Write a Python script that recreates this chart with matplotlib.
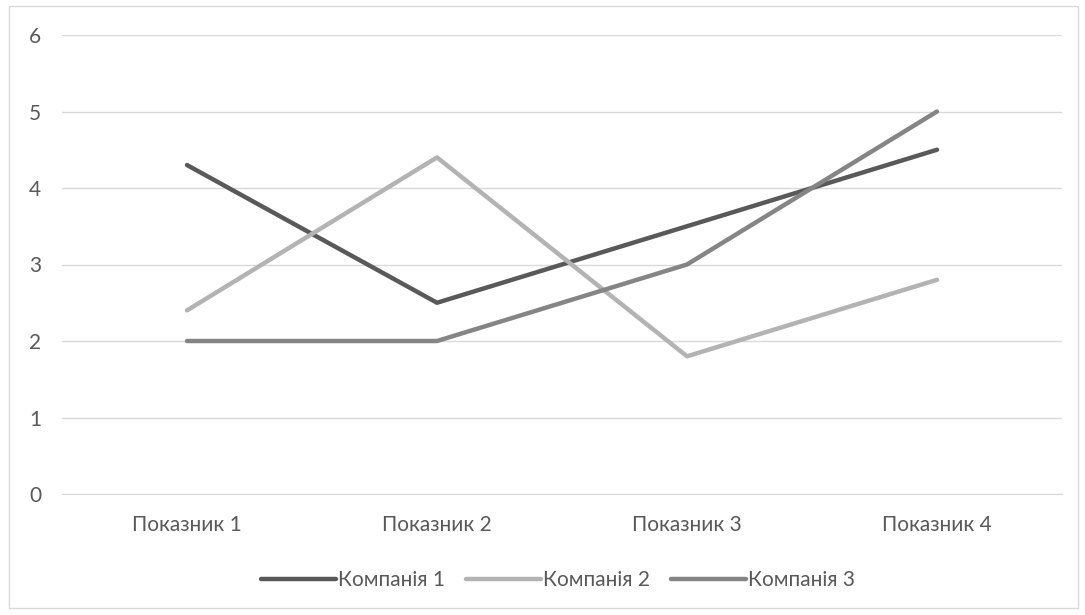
import matplotlib.pyplot as plt
from matplotlib.patches import Rectangle

plt.rcParams['font.family'] = ['Lato', 'DejaVu Sans']

categories = ['Показник 1', 'Показник 2', 'Показник 3', 'Показник 4']
series_names = ['Компанія 1', 'Компанія 2', 'Компанія 3']
company1 = [4.3, 2.5, 3.5, 4.5]
company2 = [2.4, 4.4, 1.8, 2.8]
company3 = [2, 2, 3, 5]
colors = ['#595959', '#b3b3b3', '#858585']

fig = plt.figure(figsize=(10.85, 6.15), dpi=100)
ax = fig.add_axes([62 / 1085, 1 - 494 / 615, 1000 / 1085, 459 / 615])

x = [i + 0.5 for i in range(len(categories))]
for vals, name, c in zip([company1, company2, company3], series_names, colors):
    ax.plot(x, vals, color=c, lw=3.2, label=name, solid_capstyle='round')

ax.set_xlim(0, len(categories))
ax.set_ylim(0, 6)
ax.set_yticks(range(0, 7))
ax.set_xticks(x)
ax.set_xticklabels(categories)
ax.grid(axis='y', color='#d9d9d9', lw=1)
ax.set_axisbelow(True)
for s in ['top', 'right', 'left']:
    ax.spines[s].set_visible(False)
ax.spines['bottom'].set_color('#d9d9d9')
ax.tick_params(length=0, labelsize=15, labelcolor='#595959')
ax.tick_params(axis='x', pad=15)
ax.tick_params(axis='y', pad=15)

fig.legend(loc='center', bbox_to_anchor=(558 / 1085, 1 - 580 / 615), ncol=3,
           frameon=False, fontsize=15, labelcolor='#595959',
           handlelength=3.6, handletextpad=0.1, columnspacing=1.0)

fig.patches.append(Rectangle((9 / 1085, 1 - 608 / 615), 1069 / 1085, 602 / 615,
                             transform=fig.transFigure, fill=False,
                             edgecolor='#d9d9d9', lw=1))

fig.savefig('out.png', dpi=100)
